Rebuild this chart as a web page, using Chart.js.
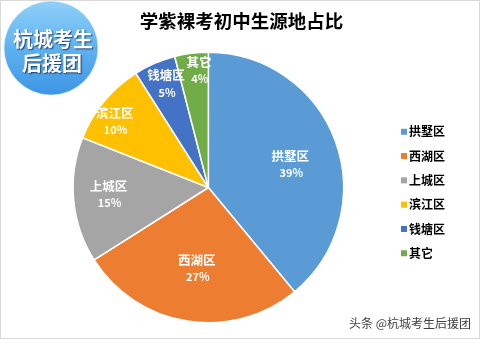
<!DOCTYPE html>
<html>
<head>
<meta charset="utf-8">
<script src="https://cdn.jsdelivr.net/npm/chart.js@4.4.1/dist/chart.umd.min.js"></script>
<style>
  html, body { margin: 0; padding: 0; background: #ffffff; }
  canvas { display: block; }
</style>
</head>
<body>
<canvas id="chart" width="481" height="340"></canvas>
<script>
// Source districts and their share of students (%)
const categories = ['拱墅区', '西湖区', '上城区', '滨江区', '钱塘区', '其它'];
const shares = [39, 27, 15, 10, 5, 4];
const sliceColors = ['#5B9BD5', '#ED7D31', '#A5A5A5', '#FFC000', '#4472C4', '#70AD47'];
const titleText = '学紫裸考初中生源地占比';
const badgeLines = ['杭城考生', '后援团'];
const footerText = '头条 @杭城考生后援团';

// In-slice label placement: fraction of radius and angular nudge (degrees)
const labelRadius = [0.63, 0.60, 0.74, 0.85, 0.83, 0.87];
const labelNudge = [3.8, -0.8, 1.7, -4.2, 1.3, 2.6];

const CJK = '"Noto Sans CJK SC", "Noto Sans", sans-serif';
const LEGEND_SWATCH = 6;

const frame = {
  id: 'frame',
  beforeDraw(chart) {
    const ctx = chart.ctx;
    ctx.save();
    ctx.fillStyle = '#ffffff';
    ctx.fillRect(0, 0, chart.width, chart.height);
    ctx.restore();
  },
  afterDraw(chart) {
    const ctx = chart.ctx;
    ctx.save();

    // square legend swatches, drawn over the narrow built-in boxes
    const lg = chart.legend;
    if (lg && lg.legendHitBoxes) {
      lg.legendHitBoxes.forEach((hb, i) => {
        const item = lg.legendItems[i];
        ctx.fillStyle = item.fillStyle;
        ctx.fillRect(hb.left, hb.top + (hb.height - LEGEND_SWATCH) / 2, LEGEND_SWATCH, LEGEND_SWATCH);
      });
    }

    ctx.strokeStyle = '#d9d9d9';
    ctx.lineWidth = 1;
    ctx.strokeRect(0.5, 0.5, 479, 338);

    // round badge, top left
    const cx = 51, cy = 48, r = 47;
    const g = ctx.createLinearGradient(0, cy - r, 0, cy + r);
    g.addColorStop(0, '#8fd0f8');
    g.addColorStop(0.5, '#5fb2f0');
    g.addColorStop(1, '#3d95e4');
    ctx.beginPath();
    ctx.arc(cx, cy, r, 0, Math.PI * 2);
    ctx.fillStyle = g;
    ctx.fill();
    ctx.strokeStyle = 'rgba(255,255,255,0.5)';
    ctx.lineWidth = 1;
    ctx.stroke();

    ctx.font = 'bold 20px ' + CJK;
    ctx.textAlign = 'center';
    ctx.textBaseline = 'middle';
    ctx.shadowColor = 'rgba(20,40,80,0.85)';
    ctx.shadowOffsetX = 1;
    ctx.shadowOffsetY = 1;
    ctx.shadowBlur = 1.5;
    ctx.fillStyle = '#ffffff';
    ctx.fillText(badgeLines[0], 53, 39);
    ctx.fillText(badgeLines[1], 52, 63);

    // footer credit
    ctx.shadowColor = 'rgba(0,0,0,0)';
    ctx.font = '12px ' + CJK;
    ctx.textAlign = 'right';
    ctx.fillStyle = '#3f3f3f';
    ctx.fillText(footerText, 471, 323);
    ctx.restore();
  }
};

const sliceLabels = {
  id: 'sliceLabels',
  afterDatasetsDraw(chart) {
    const ctx = chart.ctx;
    const meta = chart.getDatasetMeta(0);
    const values = chart.data.datasets[0].data;
    ctx.save();
    ctx.fillStyle = '#ffffff';
    ctx.textAlign = 'center';
    ctx.textBaseline = 'middle';
    meta.data.forEach((arc, i) => {
      const p = arc.getProps(['x', 'y', 'startAngle', 'endAngle', 'outerRadius'], true);
      const a = (p.startAngle + p.endAngle) / 2 + labelNudge[i] * Math.PI / 180;
      const rr = p.outerRadius * labelRadius[i];
      const x = p.x + Math.cos(a) * rr;
      const y = p.y + Math.sin(a) * rr;
      ctx.font = 'bold 12.5px ' + CJK;
      ctx.fillText(chart.data.labels[i], x, y - 8);
      ctx.font = 'bold 11px ' + CJK;
      ctx.fillText(values[i] + '%', x + 1, y + 9);
    });
    ctx.restore();
  }
};

new Chart(document.getElementById('chart'), {
  type: 'pie',
  data: {
    labels: categories,
    datasets: [{
      data: shares,
      backgroundColor: sliceColors,
      borderColor: '#ffffff',
      borderWidth: 1.5
    }]
  },
  options: {
    responsive: false,
    animation: false,
    layout: { padding: { top: 0, right: 26, bottom: 16.5, left: 28 } },
    plugins: {
      title: {
        display: true,
        text: titleText,
        color: '#000000',
        font: { family: CJK, size: 18.5, weight: 'bold', lineHeight: 1.2 },
        padding: { top: 10, bottom: 19.3 }
      },
      legend: {
        position: 'right',
        align: 'center',
        fullSize: false,
        title: { display: true, text: '', padding: 0, font: { size: 10, lineHeight: 1 } },
        labels: {
          boxWidth: 2,
          boxHeight: 6,
          padding: 12.3,
          color: '#000000',
          font: { family: CJK, size: 12, weight: 'bold' }
        }
      },
      tooltip: { enabled: false }
    }
  },
  plugins: [frame, sliceLabels]
});
</script>
</body>
</html>
